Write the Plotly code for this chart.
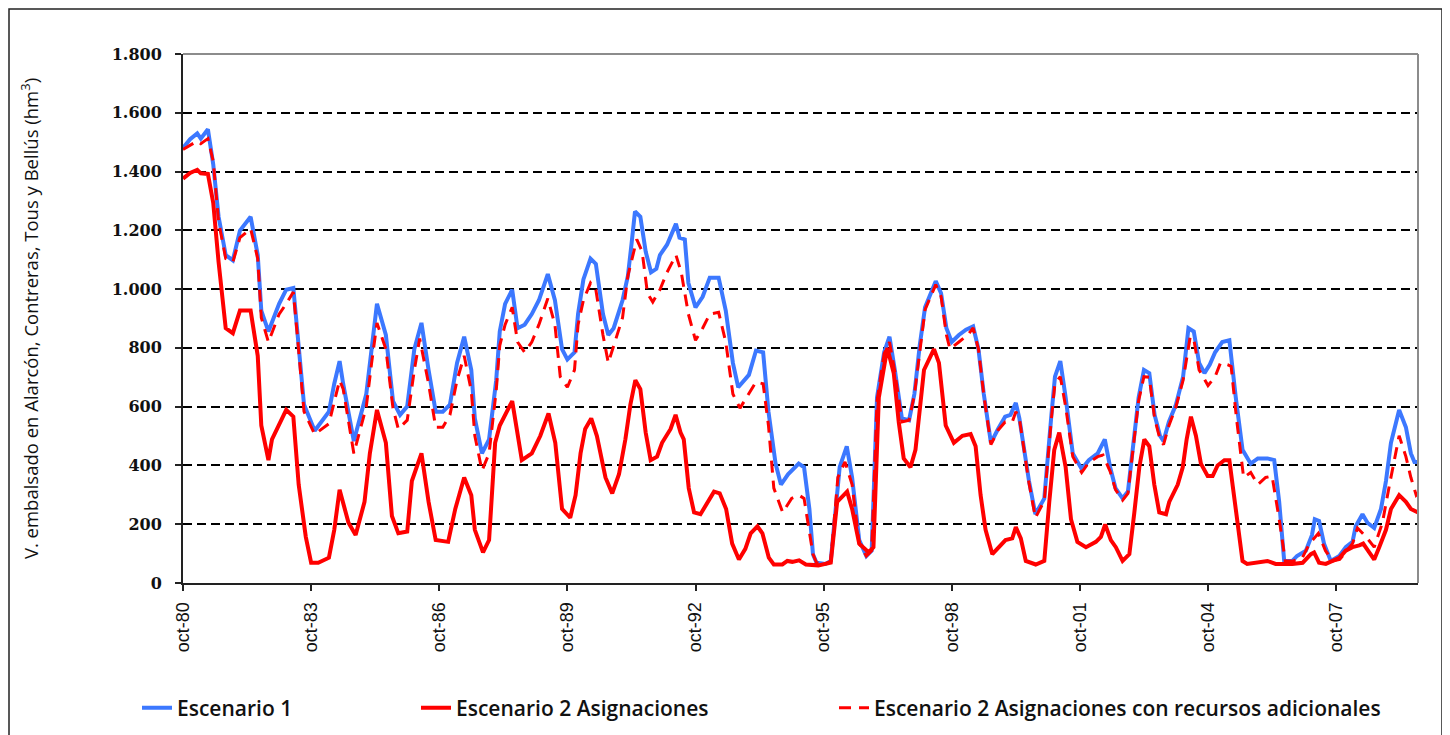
import plotly.graph_objects as go

# ---------------- data (month index from oct-1980) ----------------
tick_months = [0, 36, 72, 108, 144, 180, 216, 252, 288, 324]
tick_labels = ["oct-80", "oct-83", "oct-86", "oct-89", "oct-92",
               "oct-95", "oct-98", "oct-01", "oct-04", "oct-07"]
y_ticks = [0, 200, 400, 600, 800, 1000, 1200, 1400, 1600, 1800]
y_tick_labels = ["0", "200", "400", "600", "800", "1.000", "1.200", "1.400", "1.600", "1.800"]

esc1_months = [0, 2, 4, 5, 7, 8.5, 10, 12, 14, 16, 19, 21, 22, 24, 27, 29, 31, 32, 34, 37,
               41, 42.5, 44, 45, 48, 51.5, 53, 54.5, 57, 59, 61, 63, 65, 67, 69, 71, 73, 75, 77, 79,
               81, 82, 84, 86, 88, 89, 90.5, 92.5, 94, 96, 98, 100, 102.5, 104.5, 106.5, 108, 110, 111, 112.5, 114.5,
               116, 118, 119.5, 121, 123.5, 125, 126, 127, 128.5, 130, 131.5, 133, 134, 136, 138.5, 139.5, 141, 142, 144, 146,
               148, 150.5, 152.5, 154.5, 156, 159, 161, 163, 164.5, 166.5, 168, 170, 173, 174.5, 176, 177, 178, 180.5, 182, 184.5,
               186.5, 188, 190, 192, 193.5, 195, 197, 198.5, 200, 202, 204, 205.5, 207, 208.5, 211.5, 213, 214.5, 216, 218, 220,
               222, 223.5, 225, 227, 229, 231, 232.5, 234, 235, 236.5, 237.7, 239.5, 242, 244, 245, 246.5, 248, 250, 252.5, 254.5,
               257, 259, 260.5, 262, 264, 265.5, 267, 268.5, 270, 271.5, 273, 274.5, 275.5, 277, 279, 281, 282.5, 284, 285.5, 287,
               288.5, 290, 292, 294, 295.8, 297.7, 300, 302, 304.7, 306.6, 308, 309.4, 311.7, 313, 315.5, 317.2, 318, 319.2, 320.6, 322.5,
               324.9, 326.7, 328.6, 329.5, 331.4, 332.8, 334.7, 336.6, 338, 339.4, 341.7, 343.6, 345, 346, 347]
esc1_values = [1480, 1510, 1530, 1512, 1544, 1424, 1246, 1116, 1098, 1199, 1246, 1116, 927, 856, 950, 998, 1004, 867, 607, 518,
               583, 678, 755, 678, 483, 643, 796, 950, 844, 619, 572, 601, 796, 885, 725, 583, 583, 607, 749, 838,
               725, 560, 441, 489, 690, 856, 950, 998, 867, 879, 915, 962, 1051, 962, 796, 761, 785, 915, 1033, 1104,
               1086, 915, 844, 867, 962, 1045, 1151, 1264, 1246, 1128, 1057, 1069, 1116, 1151, 1222, 1175, 1169, 1021, 938, 974,
               1039, 1039, 927, 749, 666, 708, 791, 785, 583, 406, 335, 370, 406, 394, 252, 98, 69, 65, 75, 394,
               465, 359, 146, 92, 110, 631, 785, 838, 725, 560, 554, 643, 808, 938, 1027, 986, 867, 820, 844, 862,
               873, 796, 643, 477, 524, 566, 572, 613, 560, 440, 347, 234, 288, 572, 702, 755, 631, 441, 388, 418,
               441, 489, 394, 323, 288, 311, 465, 631, 725, 714, 572, 501, 483, 548, 607, 702, 867, 856, 749, 714,
               743, 785, 820, 826, 631, 453, 406, 424, 424, 418, 276, 75, 75, 92, 110, 163, 217, 211, 134, 75,
               92, 122, 140, 193, 234, 205, 187, 252, 347, 477, 589, 530, 441, 412, 412]

esc2_months = [0, 2, 4, 5, 7, 8.5, 10, 12, 14, 16, 19, 21, 22, 24, 25, 27, 29, 31, 32.5, 34.5,
               36, 38, 41, 42.5, 44, 46.5, 48.5, 51, 52.5, 54.5, 57, 58.7, 60.5, 63, 64.3, 67, 69, 71, 74.5, 76.5,
               79, 81, 82, 84.3, 86, 87.7, 89, 92.5, 94.3, 95.2, 98, 100.4, 102.7, 104.6, 106.5, 108.8, 110.3, 111.7, 113, 114.7,
               116.3, 117.5, 118.7, 120.6, 122.5, 124.3, 125.7, 127.1, 128.5, 130, 131.4, 133.2, 134.6, 137, 138.4, 139.8, 140.7, 142.1, 143.6, 145.4,
               147.3, 149.2, 150.8, 152.6, 154.3, 156.2, 158, 159.5, 161.4, 162.8, 164.6, 166, 168.4, 169.8, 171.2, 173.1, 175, 178.5, 182, 183.8,
               186.6, 188, 190, 192.7, 194, 195.5, 197.9, 199.7, 201.1, 202.5, 204.4, 205.8, 208.2, 211, 212.4, 214.3, 216.6, 219, 221.3, 222.7,
               224.1, 225.5, 227.4, 229.3, 231.1, 233, 234, 235.4, 236.8, 239.6, 242, 243.4, 244.8, 246.2, 248, 249.5, 251.3, 253.7, 256.5, 257.9,
               259.1, 260.7, 262.1, 264, 265.9, 267.3, 268.7, 270.1, 271.5, 272.9, 274.3, 276.2, 277.1, 279.5, 280.9, 282, 283.2, 284.6, 286, 287.9,
               289.3, 290.7, 292.6, 294, 295.8, 297.7, 299, 302.4, 304.7, 307, 311.7, 314.6, 316.9, 317.8, 319.2, 321.1, 323, 324.9, 326.7, 328.6,
               330.5, 331.6, 333.3, 334.7, 336.1, 338, 339.4, 341.7, 343.6, 345, 347]
esc2_values = [1376, 1395, 1406, 1394, 1392, 1293, 1092, 867, 850, 927, 927, 773, 536, 418, 489, 536, 589, 566, 335, 157,
               69, 69, 86, 181, 317, 205, 163, 276, 441, 589, 477, 228, 169, 175, 347, 441, 276, 146, 140, 252,
               359, 299, 181, 104, 146, 477, 536, 619, 477, 418, 441, 501, 577, 477, 252, 222, 299, 441, 524, 560,
               500, 430, 359, 305, 370, 489, 607, 690, 660, 512, 418, 430, 477, 524, 572, 512, 489, 323, 240, 234,
               276, 311, 305, 252, 134, 80, 116, 169, 193, 169, 86, 63, 63, 75, 72, 77, 63, 60, 69, 276,
               311, 252, 134, 104, 122, 631, 800, 714, 548, 424, 394, 453, 725, 796, 749, 536, 477, 501, 507, 465,
               299, 181, 98, 122, 146, 152, 190, 152, 75, 63, 75, 276, 453, 512, 394, 217, 140, 122, 140, 157,
               199, 146, 122, 75, 98, 240, 394, 489, 465, 335, 240, 234, 276, 335, 394, 489, 566, 501, 406, 364,
               364, 400, 418, 418, 252, 75, 65, 69, 75, 65, 65, 69, 98, 104, 69, 65, 75, 86, 110, 122,
               128, 134, 104, 80, 122, 181, 252, 299, 276, 252, 240]

esc2r_months = [0, 2, 4, 5, 7, 8.5, 10, 12, 14, 16, 19, 21, 22, 24, 27, 29, 31, 32, 34, 37,
                41, 44, 45, 48, 51.5, 53, 54.5, 57, 59, 60.5, 63, 65, 66.5, 69, 71, 73, 75, 77, 79, 81,
                82, 84, 86, 88, 89, 90.5, 92.5, 94, 96, 98, 100, 102.5, 104.5, 106, 108, 110, 111, 112.5, 114.5, 116,
                118, 119.5, 121, 123.5, 125, 127.5, 129, 130.5, 132, 134, 136, 138.5, 140, 142, 144, 146, 148, 150.5, 152.5, 154.5,
                156.5, 159, 161, 163, 164.5, 166, 168.5, 171, 173, 174.5, 176, 177, 178, 180.5, 182, 184, 186, 188, 190, 192,
                193.5, 195, 197, 198.5, 200, 202, 204, 205.5, 207, 208.5, 211.5, 213, 214.5, 215.5, 218, 220.5, 222, 223.5, 225, 227,
                229, 231, 233, 234, 235, 236.5, 237.7, 239.5, 242, 244, 245, 246.5, 248, 250, 252.5, 254.5, 257, 258.5, 260.5, 262,
                264, 265.5, 267, 268.5, 270, 271.5, 273, 274.5, 275.5, 277, 279, 281, 283, 284, 285.5, 288, 290, 291.5, 293.5, 294.5,
                296, 298, 300, 302, 304.2, 306, 308, 309.7, 312, 314.5, 316.5, 319, 321, 323, 325, 327, 328.6, 330, 332.4, 334.7,
                337, 339, 341.7, 343.6, 345, 346.5, 347]
esc2r_values = [1475, 1490, 1504, 1495, 1512, 1435, 1230, 1104, 1092, 1175, 1205, 1104, 903, 820, 915, 950, 990, 860, 583, 506,
                542, 690, 660, 441, 600, 749, 885, 796, 595, 524, 554, 725, 832, 678, 530, 530, 572, 690, 773, 654,
                501, 382, 441, 654, 808, 879, 938, 820, 785, 820, 879, 968, 879, 702, 666, 725, 879, 962, 1021, 998,
                844, 749, 808, 903, 1045, 1169, 1128, 986, 956, 998, 1057, 1116, 1057, 915, 826, 867, 915, 921, 820, 643,
                595, 643, 684, 678, 536, 323, 240, 288, 299, 288, 181, 98, 69, 65, 75, 359, 412, 335, 134, 92,
                110, 620, 780, 820, 720, 548, 554, 640, 785, 930, 1015, 975, 844, 796, 820, 844, 868, 796, 640, 471,
                520, 548, 548, 583, 560, 430, 340, 222, 280, 560, 680, 702, 600, 430, 376, 410, 430, 435, 380, 318,
                282, 305, 455, 620, 702, 700, 560, 490, 471, 535, 600, 690, 838, 830, 725, 672, 702, 749, 743, 737,
                560, 359, 376, 335, 359, 364, 217, 75, 75, 86, 134, 169, 110, 75, 80, 110, 134, 187, 157, 122,
                205, 335, 501, 430, 359, 299, 305]

series_names = ["Escenario 1", "Escenario 2 Asignaciones",
                "Escenario 2 Asignaciones con recursos adicionales"]

# ---------------- figure ----------------
# The page body adds an 8px offset, so the figure is laid out in page coords minus 8.
OFF = 8
W, H = 1442, 727
L = 183 - OFF
T = 54 - OFF
R = W - (1418 - OFF)
B = H - (583 - OFF)
pw, ph = W - L - R, H - T - B


def px(x):  # reference-image x -> paper
    return (x - OFF - L) / pw


def py(y):  # reference-image y -> paper
    return (H - B - (y - OFF)) / ph


legend_font = dict(family="Open Sans, Lato, sans-serif", size=21, color="#111111", weight=600)

fig = go.Figure()
fig.add_trace(go.Scatter(x=esc1_months, y=esc1_values, mode="lines", name=series_names[0],
                         line=dict(color="#3C78FF", width=4), legend="legend"))
fig.add_trace(go.Scatter(x=esc2_months, y=esc2_values, mode="lines", name=series_names[1],
                         line=dict(color="#FF0000", width=4), legend="legend2"))
fig.add_trace(go.Scatter(x=esc2r_months, y=esc2r_values, mode="lines", name=series_names[2],
                         line=dict(color="#FF0000", width=3, dash="12px,8px"), legend="legend3"))

leg_common = dict(orientation="h", yanchor="middle", xanchor="left", bgcolor="rgba(0,0,0,0)",
                  borderwidth=0, font=legend_font)

fig.update_layout(
    width=W, height=H,
    margin=dict(l=L, r=R, t=T, b=B, autoexpand=False),
    paper_bgcolor="white", plot_bgcolor="white",
    showlegend=True,
    legend=dict(x=px(137), y=py(708), **leg_common),
    legend2=dict(x=px(416), y=py(708), **leg_common),
    legend3=dict(x=px(834), y=py(708), **leg_common),
    xaxis=dict(range=[0, 347], tickmode="array", tickvals=tick_months, ticktext=tick_labels,
               tickangle=-90, ticks="outside", ticklen=6, tickwidth=1.5, tickcolor="#222222",
               showline=True, linecolor="#222222", linewidth=2, showgrid=False, zeroline=False,
               tickfont=dict(family="Liberation Sans, Arial, sans-serif", size=18, color="#111111"),
               ticklabelstandoff=4),
    yaxis=dict(range=[0, 1800], tickmode="array", tickvals=y_ticks, ticktext=y_tick_labels,
               ticks="outside", ticklen=6, tickwidth=1.5, tickcolor="#222222",
               showline=True, linecolor="#222222", linewidth=2, zeroline=False,
               showgrid=True, gridcolor="#000000", gridwidth=2, griddash="9px,5px",
               tickfont=dict(family="DejaVu Serif, serif", size=16, color="#111111", weight="bold"),
               ticklabelstandoff=10,
               title=dict(text="V. embalsado en Alarcón, Contreras, Tous y Bellús (hm<sup>3</sup>)",
                          font=dict(family="Open Sans, Lato, sans-serif", size=18.5, color="#111111"),
                          standoff=68)),
    shapes=[
        # plot area frame (top / right in grey)
        dict(type="line", xref="paper", yref="paper", x0=0, x1=1, y0=1, y1=1,
             line=dict(color="#8C8C8C", width=2), layer="above"),
        dict(type="line", xref="paper", yref="paper", x0=1, x1=1, y0=0, y1=1,
             line=dict(color="#8C8C8C", width=2), layer="above"),
        # outer chart border
        dict(type="rect", xref="paper", yref="paper", x0=px(9), x1=px(1442), y0=py(760), y1=py(9),
             line=dict(color="#222222", width=1.5), layer="above"),
    ],
)

fig.write_html("out.html")
